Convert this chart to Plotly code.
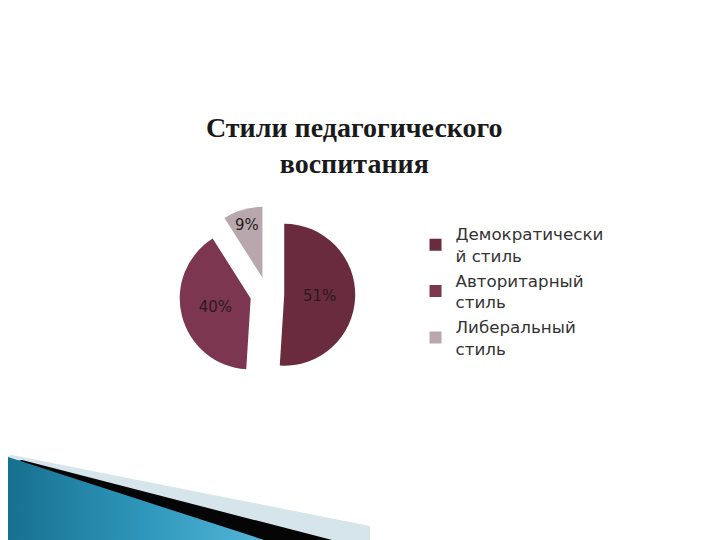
import plotly.graph_objects as go

# Данные диаграммы
стили = ["Демократически<br>й стиль", "Авторитарный<br>стиль", "Либеральный<br>стиль"]
доли = [51, 40, 9]
цвета = ["#6A2B3E", "#7D3650", "#B8A8AE"]
вынос = [0.24, 0.24, 0.24]

fig = go.Figure()

# Декоративная полоса внизу слайда (в пикселях рисунка 720x540)
светлая_x = [4, 362, 362, 0, 0]
светлая_y = [447, 518, 540, 540, 448]
чёрная_x = [14, 355, 0, 0]
чёрная_y = [452, 540, 540, 455]
синяя_x = [0, 281, 0]
синяя_y = [449, 540, 540]

fig.add_trace(go.Scatter(x=светлая_x, y=светлая_y, fill="toself", mode="none",
                         fillcolor="#D6E4EB", hoverinfo="skip", showlegend=False))
fig.add_trace(go.Scatter(x=чёрная_x, y=чёрная_y, fill="toself", mode="none",
                         fillcolor="#050505", hoverinfo="skip", showlegend=False))
fig.add_trace(go.Scatter(x=синяя_x, y=синяя_y, fill="toself", mode="none",
                         fillgradient=dict(type="horizontal",
                                           colorscale=[[0, "#17708F"], [0.5, "#2F98BC"], [1, "#5CBCDD"]]),
                         hoverinfo="skip", showlegend=False))

fig.add_trace(go.Pie(
    labels=стили,
    values=доли,
    sort=False,
    direction="clockwise",
    rotation=0,
    pull=вынос,
    marker=dict(colors=цвета, line=dict(width=0)),
    textinfo="percent",
    textposition="inside",
    insidetextorientation="horizontal",
    textfont=dict(family="DejaVu Sans", size=15, color="#2a1a20"),
    domain=dict(x=[0.2375, 0.4825], y=[0.307, 0.633]),
    hoverinfo="label+percent",
))

fig.update_layout(
    width=720,
    height=540,
    margin=dict(l=0, r=0, t=0, b=0),
    paper_bgcolor="white",
    plot_bgcolor="white",
    xaxis=dict(range=[0, 720], visible=False, fixedrange=True),
    yaxis=dict(range=[540, 0], visible=False, fixedrange=True),
    title=dict(
        text="Стили педагогического<br>воспитания",
        x=0.481, xanchor="center",
        y=0.762, yanchor="middle",
        font=dict(family="Liberation Serif", size=28, color="#1a1a1a", weight="bold"),
    ),
    legend=dict(
        x=0.566, xanchor="left",
        y=0.614, yanchor="top",
        font=dict(family="DejaVu Sans", size=16.7, color="#333333"),
        bgcolor="rgba(0,0,0,0)",
    ),
    showlegend=True,
)

fig.write_html("out.html")
